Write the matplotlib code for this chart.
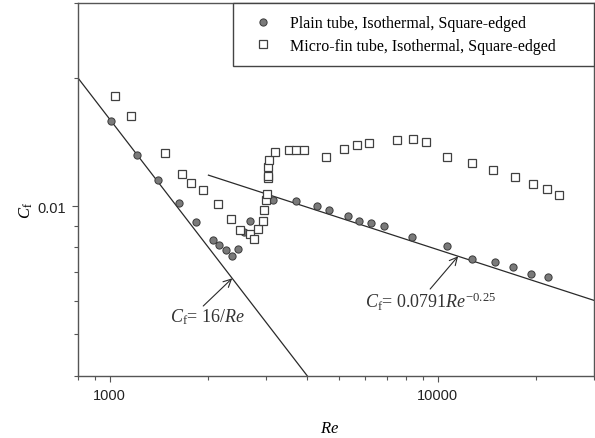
import numpy as np
import matplotlib
matplotlib.use("Agg")
import matplotlib.pyplot as plt
from matplotlib.ticker import NullFormatter, FixedLocator, FixedFormatter

plt.rcParams['mathtext.fontset'] = 'custom'
plt.rcParams['mathtext.rm'] = 'Liberation Serif'
plt.rcParams['mathtext.it'] = 'Liberation Serif:italic'
plt.rcParams['mathtext.bf'] = 'Liberation Serif:bold'

# Plain tube data
plain_re = [1009, 1211, 1403, 1621, 1827, 2064, 2147, 2261, 2355, 2453, 2563,
            2673, 3145, 3691, 4283, 4680, 5324, 5775, 6271, 6855, 8379,
            10690, 12740, 15010, 16960, 19280, 21680]
plain_cf = [0.01588, 0.01317, 0.01154, 0.01017, 0.00917, 0.00834, 0.00811,
            0.00790, 0.00766, 0.00793, 0.00870, 0.00922, 0.01032, 0.01026,
            0.01001, 0.00980, 0.00950, 0.00922, 0.00913, 0.00899, 0.00848,
            0.00805, 0.00752, 0.00738, 0.00721, 0.00693, 0.00681]

# Micro-fin tube data
fin_re = [1034, 1163, 1473, 1664, 1764, 1919, 2145, 2350, 2500, 2677, 2746,
          2827, 2932, 2955, 2990, 3015, 3049, 3049, 3049, 3064, 3190, 3527,
          3696, 3926, 4562, 5198, 5694, 6197, 7511, 8403, 9245, 10670, 12770,
          14800, 17200, 19600, 21530, 23420]
fin_cf = [0.01817, 0.01631, 0.01331, 0.01190, 0.01134, 0.01091, 0.01013,
          0.00933, 0.00881, 0.00859, 0.00839, 0.00884, 0.00922, 0.00979,
          0.01032, 0.01071, 0.01163, 0.01179, 0.01238, 0.01284, 0.01341,
          0.01353, 0.01353, 0.01357, 0.01305, 0.01360, 0.01394, 0.01409,
          0.01428, 0.01440, 0.01417, 0.01307, 0.01263, 0.01216, 0.01169,
          0.01129, 0.01099, 0.01062]

# Correlation lines
lam_re = np.array([800, 4000])
turb_re = np.array([2000, 30000])

fig = plt.figure(figsize=(5.95, 4.39), dpi=100)
ax = fig.add_axes([78/595, 1 - 376.7/439, (594 - 78)/595, (376.7 - 4)/439])

line_col = '#2a2a2a'
ax.plot(lam_re, 16 / lam_re, color=line_col, lw=0.9, zorder=2)
ax.plot(turb_re, 0.0791 * turb_re ** -0.25, color=line_col, lw=0.9, zorder=2)

ax.plot(plain_re, plain_cf, 'o', ms=5.2, mfc='#7a7a7a', mec='#3a3a3a', mew=0.7,
        ls='none', label='Plain tube, Isothermal, Square-edged', zorder=3)
ax.plot(fin_re, fin_cf, 's', ms=5.3, mfc='white', mec='#404040', mew=0.9,
        ls='none', label='Micro-fin tube, Isothermal, Square-edged', zorder=4)

ax.set_xscale('log')
ax.set_yscale('log')
ax.set_xlim(800, 30000)
ax.set_ylim(0.004, 0.03)

ax.yaxis.set_minor_formatter(NullFormatter())
ax.xaxis.set_minor_formatter(NullFormatter())
ax.yaxis.set_major_locator(FixedLocator([0.01]))
ax.yaxis.set_major_formatter(FixedFormatter(['0.01']))
ax.xaxis.set_major_locator(FixedLocator([1000, 10000]))
ax.xaxis.set_major_formatter(FixedFormatter(['1000', '10000']))

spine_col = '#555555'
for s in ax.spines.values():
    s.set_color(spine_col)
    s.set_linewidth(1.0)
ax.tick_params(which='major', length=4.5, width=0.8, color=spine_col,
               labelsize=10.5, labelcolor='#222222', pad=4)
ax.tick_params(which='minor', length=2.8, width=0.8, color=spine_col)
for lab in ax.get_xticklabels() + ax.get_yticklabels():
    lab.set_family('Liberation Sans')

ax.set_xlabel('$Re$', fontsize=12)
ax.xaxis.set_label_coords(0.488, -0.114)
ax.set_ylabel(r'$C_\mathrm{f}$', fontsize=12)
ax.yaxis.set_label_coords(-0.083, 0.447)

# Annotations
ax.annotate('', xy=(2363, 16 / 2363), xytext=(1928, 0.00583),
            arrowprops=dict(arrowstyle='->', lw=0.8, color=line_col,
                            mutation_scale=14, shrinkA=0, shrinkB=0))
ax.text(0.251, 0.160, r'$C_\mathrm{f}$= 16/$Re$', transform=ax.transAxes,
        ha='center', va='center', fontsize=13, family='Liberation Serif',
        color='#333333')
ax.annotate('', xy=(11550, 0.0791 * 11550 ** -0.25), xytext=(9490, 0.00639),
            arrowprops=dict(arrowstyle='->', lw=0.8, color=line_col,
                            mutation_scale=14, shrinkA=0, shrinkB=0))
ax.text(0.684, 0.200, r'$C_\mathrm{f}$= 0.0791$Re^{\mathrm{-0.25}}$',
        transform=ax.transAxes, ha='center', va='center', fontsize=13,
        family='Liberation Serif', color='#333333')

x0 = (233 - 78) / 516
leg = ax.legend(loc='upper left', bbox_to_anchor=(x0, 0, 1 - x0, 1),
                mode='expand', borderaxespad=0, fancybox=False,
                prop={'family': 'Liberation Serif', 'size': 11.5},
                handlelength=2.2, handletextpad=0.6, borderpad=0.77,
                labelspacing=0.41, framealpha=1)
leg.get_frame().set_edgecolor('#444444')
leg.get_frame().set_linewidth(1.0)

fig.savefig('out.png', dpi=100)
